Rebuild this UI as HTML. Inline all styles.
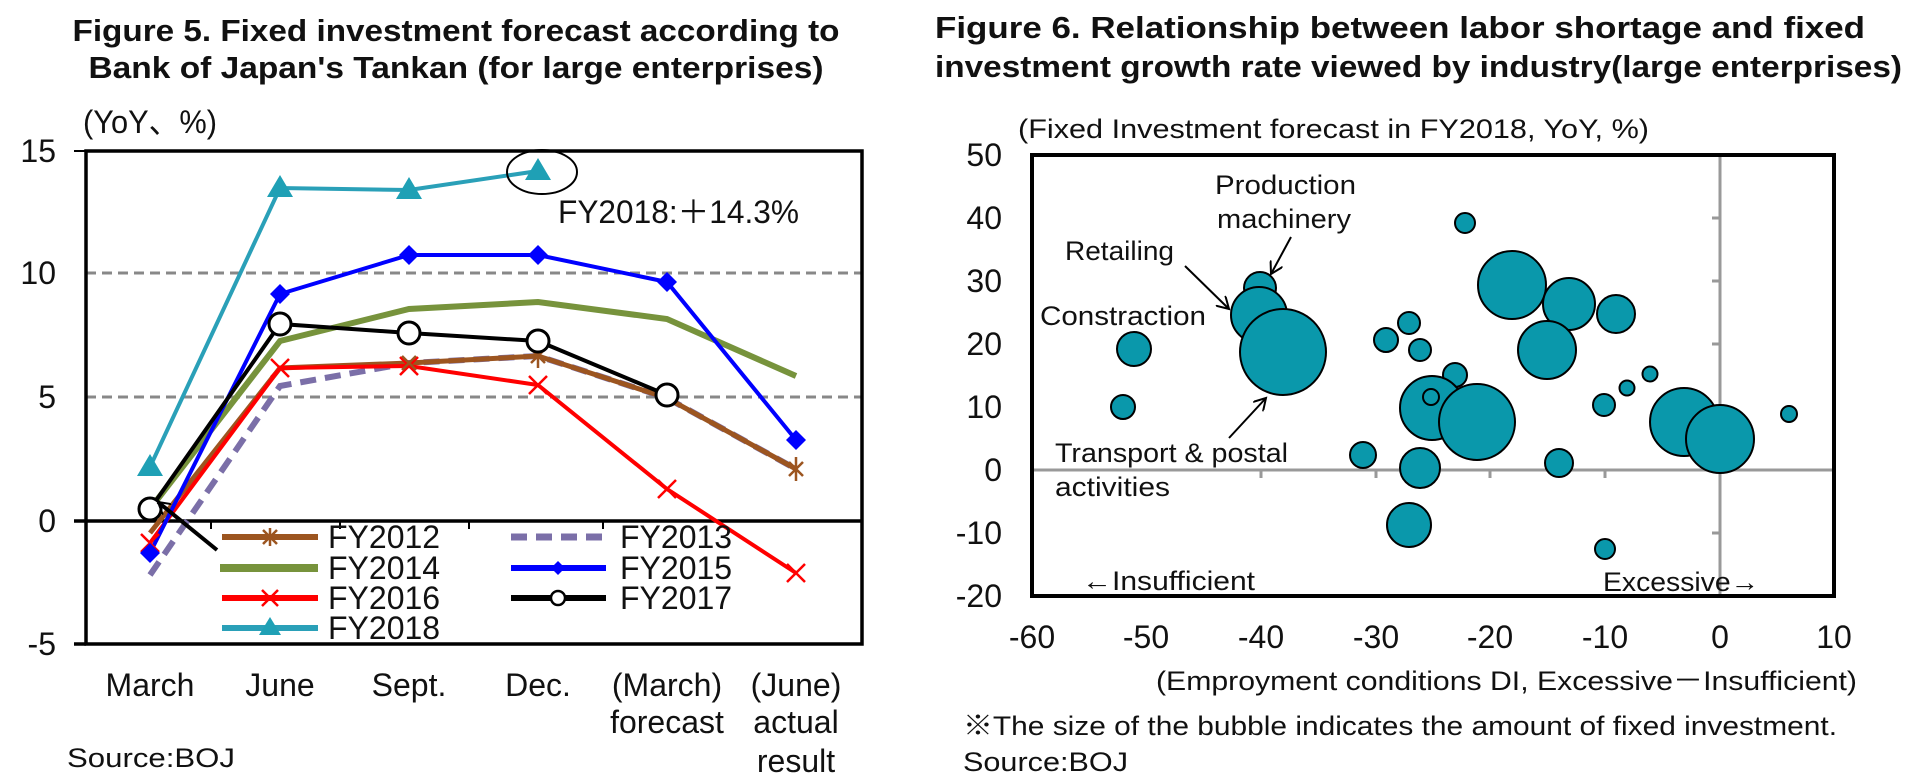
<!DOCTYPE html>
<html><head><meta charset="utf-8"><style>
html,body{margin:0;padding:0;background:#fff;}
svg{display:block;}
text{font-family:"Liberation Sans","Noto Sans CJK JP",sans-serif;fill:#111;}
.t{font-weight:bold;font-size:31px;}
.k{font-size:32px;}
.s{font-size:27px;}
</style></head><body>
<svg width="1920" height="781" viewBox="0 0 1920 781" xmlns="http://www.w3.org/2000/svg">
<defs>
<marker id="ah" markerWidth="14" markerHeight="14" refX="12" refY="7" orient="auto" markerUnits="userSpaceOnUse">
<path d="M0,0 L12,7 L0,14" fill="none" stroke="#000" stroke-width="2"/>
</marker>
</defs>
<!-- LEFT CHART -->
<text class="t" x="456" y="41" text-anchor="middle" textLength="767" lengthAdjust="spacingAndGlyphs">Figure 5. Fixed investment forecast according to</text>
<text class="t" x="456" y="78" text-anchor="middle" textLength="735" lengthAdjust="spacingAndGlyphs">Bank of Japan's Tankan (for large enterprises)</text>
<text class="k" x="83" y="133" textLength="134" lengthAdjust="spacingAndGlyphs">(YoY、%)</text>
<g class="k" text-anchor="end">
<text x="56" y="162">15</text><text x="56" y="284">10</text><text x="56" y="408">5</text><text x="56" y="532">0</text><text x="56" y="655">-5</text>
</g>
<line x1="86" y1="273" x2="862" y2="273" stroke="#888" stroke-width="3" stroke-dasharray="10,6"/>
<line x1="86" y1="397" x2="862" y2="397" stroke="#888" stroke-width="3" stroke-dasharray="10,6"/>
<rect x="86" y="151" width="776" height="493" fill="none" stroke="#000" stroke-width="3.5"/>
<line x1="74" y1="151" x2="86" y2="151" stroke="#000" stroke-width="2"/>
<line x1="74" y1="644" x2="86" y2="644" stroke="#000" stroke-width="3.5"/>
<line x1="74" y1="521" x2="862" y2="521" stroke="#000" stroke-width="3.5"/>
<g stroke="#000" stroke-width="2"><line x1="211" y1="521" x2="211" y2="529"/><line x1="340" y1="521" x2="340" y2="529"/><line x1="469" y1="521" x2="469" y2="529"/><line x1="603" y1="521" x2="603" y2="529"/></g>
<polyline points="150,575 280,386 409,363 538,356 667,398 796,469" fill="none" stroke="#7b6fa8" stroke-width="6" stroke-dasharray="16,9"/>
<polyline points="150,533 280,368 409,363 538,356 667,398 796,469" fill="none" stroke="#9c5520" stroke-width="5"/>
<polyline points="150,509 280,341 409,309 538,302 667,319 796,376" fill="none" stroke="#77933c" stroke-width="6"/>
<polyline points="150,543 280,368 409,366 538,385 667,489 796,573" fill="none" stroke="#ff0000" stroke-width="4"/>
<polyline points="150,553 280,294 409,255 538,255 667,282 796,440" fill="none" stroke="#0000ff" stroke-width="4"/>
<polyline points="150,467 280,188 409,190 538,171" fill="none" stroke="#2aa0b8" stroke-width="4"/>
<polyline points="150,509 280,324 409,333 538,341 667,395" fill="none" stroke="#000" stroke-width="4"/>
<g stroke="#ff0000" stroke-width="2.5">
<path d="M141,534 l18,18 M159,534 l-18,18 M271,359 l18,18 M289,359 l-18,18 M400,357 l18,18 M418,357 l-18,18 M529,376 l18,18 M547,376 l-18,18 M658,480 l18,18 M676,480 l-18,18 M787,564 l18,18 M805,564 l-18,18"/>
</g>
<g stroke="#9c5520" stroke-width="2.5"><path d="M402,356 l14,14 M416,356 l-14,14 M531,349 l14,14 M545,349 l-14,14 M789,462 l14,14 M803,462 l-14,14 M538,344 v24 M796,457 v24"/></g>
<g fill="#0000ff"><path d="M150,543 l10,10 l-10,10 l-10,-10z M280,284 l10,10 l-10,10 l-10,-10z M409,245 l10,10 l-10,10 l-10,-10z M538,245 l10,10 l-10,10 l-10,-10z M667,272 l10,10 l-10,10 l-10,-10z M796,430 l10,10 l-10,10 l-10,-10z"/></g>
<g fill="#1fa0b5"><path d="M150,454 l13,22 h-26z M280,175 l13,22 h-26z M409,177 l13,22 h-26z M538,158 l13,22 h-26z"/></g>
<g fill="#fff" stroke="#000" stroke-width="3"><circle cx="150" cy="509" r="11"/><circle cx="280" cy="324" r="11"/><circle cx="409" cy="333" r="11"/><circle cx="538" cy="341" r="11"/><circle cx="667" cy="395" r="11"/></g>
<ellipse cx="542" cy="172" rx="35" ry="22" fill="none" stroke="#000" stroke-width="2"/>
<text class="k" x="558" y="223" textLength="241" lengthAdjust="spacingAndGlyphs">FY2018:＋14.3%</text>
<line x1="217" y1="550" x2="158" y2="502" stroke="#000" stroke-width="4" marker-end="url(#ah)"/>
<g stroke-width="6" fill="none">
<line x1="222" y1="537" x2="318" y2="537" stroke="#9c5520"/>
<line x1="220" y1="568" x2="318" y2="568" stroke="#77933c" stroke-width="8"/>
<line x1="222" y1="598" x2="318" y2="598" stroke="#ff0000"/>
<line x1="222" y1="628" x2="318" y2="628" stroke="#2aa0b8"/>
<line x1="511" y1="537" x2="606" y2="537" stroke="#7b6fa8" stroke-dasharray="16,9" stroke-width="7"/>
<line x1="511" y1="568" x2="606" y2="568" stroke="#0000ff"/>
<line x1="511" y1="598" x2="606" y2="598" stroke="#000"/>
</g>
<path d="M263,530 l14,14 M277,530 l-14,14 M270,528 v18" stroke="#9c5520" stroke-width="2.5"/>
<path d="M262,590 l16,16 M278,590 l-16,16" stroke="#ff0000" stroke-width="2.5"/>
<path d="M270,617 l11,18 h-22z" fill="#1fa0b5"/>
<path d="M558,561 l7,7 l-7,7 l-7,-7z" fill="#0000ff"/>
<circle cx="558" cy="598" r="7" fill="#fff" stroke="#000" stroke-width="2.5"/>
<g class="k">
<text x="328" y="548">FY2012</text><text x="328" y="579">FY2014</text><text x="328" y="609">FY2016</text><text x="328" y="639">FY2018</text>
<text x="620" y="548">FY2013</text><text x="620" y="579">FY2015</text><text x="620" y="609">FY2017</text>
</g>
<g class="k" text-anchor="middle">
<text x="150" y="696">March</text><text x="280" y="696">June</text><text x="409" y="696">Sept.</text><text x="538" y="696">Dec.</text>
<text x="667" y="696">(March)</text><text x="667" y="733">forecast</text>
<text x="796" y="696">(June)</text><text x="796" y="733">actual</text><text x="796" y="772">result</text>
</g>
<text class="s" x="67" y="767" textLength="168" lengthAdjust="spacingAndGlyphs">Source:BOJ</text>

<!-- RIGHT CHART -->
<text class="t" x="935" y="38" textLength="930" lengthAdjust="spacingAndGlyphs">Figure 6. Relationship between labor shortage and fixed</text>
<text class="t" x="935" y="77" textLength="967" lengthAdjust="spacingAndGlyphs">investment growth rate viewed by industry(large enterprises)</text>
<text class="s" x="1018" y="138" textLength="631" lengthAdjust="spacingAndGlyphs">(Fixed Investment forecast in FY2018, YoY, %)</text>
<g class="k" text-anchor="end">
<text x="1002" y="166">50</text><text x="1002" y="229">40</text><text x="1002" y="292">30</text><text x="1002" y="355">20</text><text x="1002" y="418">10</text><text x="1002" y="481">0</text><text x="1002" y="544">-10</text><text x="1002" y="607">-20</text>
</g>
<g class="k" text-anchor="middle">
<text x="1032" y="648">-60</text><text x="1146" y="648">-50</text><text x="1261" y="648">-40</text><text x="1376" y="648">-30</text><text x="1490" y="648">-20</text><text x="1605" y="648">-10</text><text x="1720" y="648">0</text><text x="1834" y="648">10</text>
</g>
<text class="s" x="1156" y="690" textLength="701" lengthAdjust="spacingAndGlyphs">(Emproyment conditions DI, Excessive－Insufficient)</text>
<text class="s" x="963" y="735" textLength="874" lengthAdjust="spacingAndGlyphs">※The size of the bubble indicates the amount of fixed investment.</text>
<text class="s" x="963" y="771" textLength="165" lengthAdjust="spacingAndGlyphs">Source:BOJ</text>
<g stroke="#999" stroke-width="3">
<line x1="1032" y1="470" x2="1834" y2="470"/><line x1="1720" y1="155" x2="1720" y2="596"/>
<line x1="1261" y1="470" x2="1261" y2="478"/><line x1="1376" y1="470" x2="1376" y2="478"/><line x1="1490" y1="470" x2="1490" y2="478"/><line x1="1605" y1="470" x2="1605" y2="478"/>
<line x1="1712" y1="218" x2="1720" y2="218"/><line x1="1712" y1="281" x2="1720" y2="281"/><line x1="1712" y1="344" x2="1720" y2="344"/><line x1="1712" y1="407" x2="1720" y2="407"/><line x1="1712" y1="533" x2="1720" y2="533"/>
</g>
<rect x="1032" y="155" width="802" height="441" fill="none" stroke="#000" stroke-width="4"/>
<g fill="#0a98ab" stroke="#000" stroke-width="2">
<circle cx="1465" cy="223" r="10"/>
<circle cx="1134" cy="349" r="17"/>
<circle cx="1123" cy="407" r="12"/>
<circle cx="1260" cy="288" r="16"/>
<circle cx="1259" cy="315" r="28"/>
<circle cx="1283" cy="352" r="43"/>
<circle cx="1512" cy="285" r="34"/>
<circle cx="1569" cy="304" r="26"/>
<circle cx="1547" cy="350" r="29"/>
<circle cx="1616" cy="314" r="19"/>
<circle cx="1409" cy="323" r="11"/>
<circle cx="1386" cy="340" r="12"/>
<circle cx="1420" cy="350" r="11"/>
<circle cx="1455" cy="375" r="12"/>
<circle cx="1432" cy="408" r="32"/>
<circle cx="1431" cy="397" r="8"/>
<circle cx="1477" cy="422" r="38"/>
<circle cx="1650" cy="374" r="7.5"/>
<circle cx="1627" cy="388" r="7.5"/>
<circle cx="1604" cy="405" r="11"/>
<circle cx="1684" cy="422" r="34"/>
<circle cx="1720" cy="439" r="34"/>
<circle cx="1789" cy="414" r="8"/>
<circle cx="1363" cy="455" r="13"/>
<circle cx="1420" cy="468" r="20"/>
<circle cx="1559" cy="463" r="14"/>
<circle cx="1409" cy="525" r="22"/>
<circle cx="1605" cy="549" r="10"/>
</g>
<text class="s" x="1215" y="194" textLength="141" lengthAdjust="spacingAndGlyphs">Production</text>
<text class="s" x="1217" y="228" textLength="134" lengthAdjust="spacingAndGlyphs">machinery</text>
<text class="s" x="1065" y="260" textLength="109" lengthAdjust="spacingAndGlyphs">Retailing</text>
<text class="s" x="1040" y="325" textLength="166" lengthAdjust="spacingAndGlyphs">Constraction</text>
<text class="s" x="1055" y="462" textLength="233" lengthAdjust="spacingAndGlyphs">Transport &amp; postal</text>
<text class="s" x="1055" y="496" textLength="115" lengthAdjust="spacingAndGlyphs">activities</text>
<text class="s" x="1082" y="590" textLength="173" lengthAdjust="spacingAndGlyphs">←Insufficient</text>
<text class="s" x="1603" y="591" textLength="156" lengthAdjust="spacingAndGlyphs">Excessive→</text>
<g stroke="#000" stroke-width="2" fill="none">
<line x1="1291" y1="237" x2="1271" y2="274" marker-end="url(#ah)"/>
<line x1="1185" y1="266" x2="1229" y2="309" marker-end="url(#ah)"/>
<line x1="1229" y1="438" x2="1266" y2="398" marker-end="url(#ah)"/>
</g>
</svg>
</body></html>
